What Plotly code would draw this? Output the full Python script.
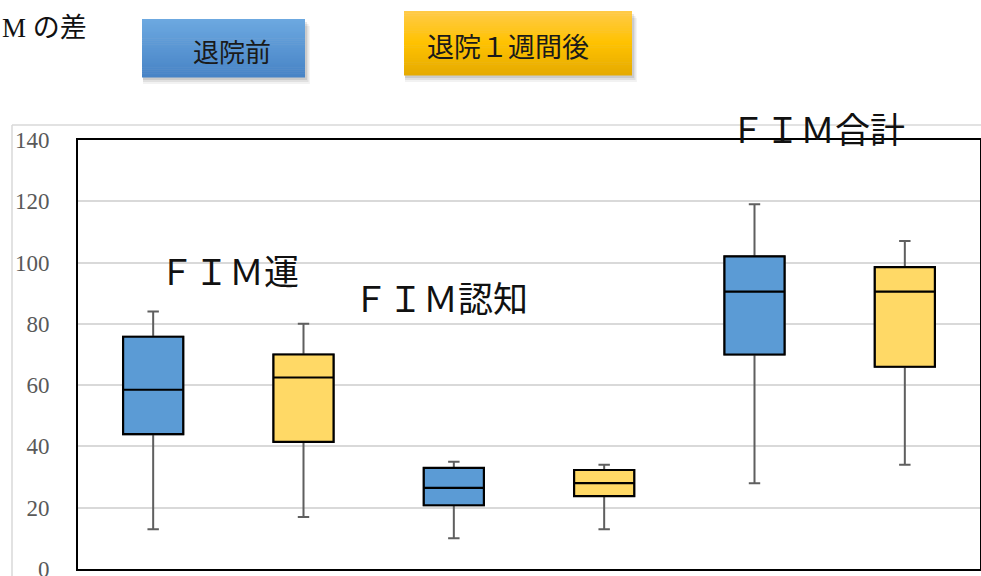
import plotly.graph_objects as go

# --- data -------------------------------------------------------------
groups = ["ＦＩＭ運", "ＦＩＭ認知", "ＦＩＭ合計"]
phases = ["退院前", "退院１週間後"]
categories = [f"{g}・{p}" for g in groups for p in phases]

lower = [13, 17, 10, 13, 28, 34]
q1 = [44, 41.5, 20.8, 23.8, 70, 66]
median = [58.5, 62.5, 26.5, 28, 90.5, 90.5]
q3 = [75.8, 70, 33, 32.3, 102, 98.5]
upper = [84, 80, 35, 34, 119, 107]

y_ticks = [0, 20, 40, 60, 80, 100, 120, 140]
title_text = "M の差"

# --- style ------------------------------------------------------------
W, H = 981, 576
phase_fill = {"退院前": "#5B9BD5", "退院１週間後": "#FFD966"}
serif = "Liberation Serif, Noto Sans CJK JP, serif"
cjk = "Noto Sans CJK JP, sans-serif"


def px(x):
    return x / W


def py(y):
    return 1 - y / H


fig = go.Figure()

for i, cat in enumerate(categories):
    phase = phases[i % 2]
    fill = phase_fill[phase]
    # whiskers (gray) with caps
    fig.add_trace(go.Box(
        x=[cat], q1=[q1[i]], median=[median[i]], q3=[q3[i]],
        lowerfence=[lower[i]], upperfence=[upper[i]],
        width=0.40, whiskerwidth=0.19, fillcolor=fill,
        line=dict(color="#5F5F5F", width=2), boxpoints=False,
        showlegend=False, hoverinfo="skip",
    ))
    # box body (black outline) drawn over the whiskers
    fig.add_trace(go.Box(
        x=[cat], q1=[q1[i]], median=[median[i]], q3=[q3[i]],
        lowerfence=[q1[i]], upperfence=[q3[i]],
        width=0.40, whiskerwidth=0.19, fillcolor=fill,
        line=dict(color="#000000", width=2.2), boxpoints=False,
        name=phase, showlegend=False,
    ))

shapes = []

# outer chart-area border (left and top edges; the rest lies past the page)
for seg in [(12, 125, 12, 576), (12, 125, 981, 125)]:
    shapes.append(dict(type="line", xref="paper", yref="paper",
                       x0=px(seg[0]), y0=py(seg[1]), x1=px(seg[2]), y1=py(seg[3]),
                       line=dict(color="#D9D9D9", width=1.5), layer="below"))


def button(x0, y0, x1, y1, top, bottom, mid=None):
    # soft drop shadow
    for k, a in [(7, 0.05), (5, 0.07), (3, 0.09)]:
        shapes.append(dict(type="rect", xref="paper", yref="paper",
                           x0=px(x0 + 1), y0=py(y0 + k), x1=px(x1 + k * 0.7), y1=py(y1 + k),
                           line=dict(width=0), fillcolor=f"rgba(0,0,0,{a})"))
    # vertical gradient built from thin strips
    n = 30
    h = (y1 - y0) / n
    for s in range(n):
        t = s / (n - 1)
        if mid is None:
            c = [top[j] + (bottom[j] - top[j]) * t for j in range(3)]
        elif t < 0.5:
            c = [top[j] + (mid[j] - top[j]) * t * 2 for j in range(3)]
        else:
            c = [mid[j] + (bottom[j] - mid[j]) * (t - 0.5) * 2 for j in range(3)]
        col = "rgb(%d,%d,%d)" % tuple(round(v) for v in c)
        shapes.append(dict(type="rect", xref="paper", yref="paper",
                           x0=px(x0), y0=py(y0 + s * h), x1=px(x1), y1=py(y0 + (s + 1) * h + 0.5),
                           line=dict(width=0), fillcolor=col))


button(142, 19, 305, 77, (108, 168, 224), (72, 132, 198))
button(404, 11, 632, 75, (255, 202, 70), (230, 171, 0), mid=(255, 194, 0))

annotations = [
    dict(text=title_text, x=px(0), y=py(28), xanchor="left", yanchor="middle",
         font=dict(family=serif, size=27, color="#111111")),
    dict(text=phases[0], x=px(232), y=py(51), xanchor="center", yanchor="middle",
         font=dict(family=cjk, size=26, color="#1A1A1A")),
    dict(text=phases[1], x=px(508), y=py(45), xanchor="center", yanchor="middle",
         font=dict(family=cjk, size=27, color="#1A1A1A")),
    dict(text=groups[0], x=px(229), y=py(269), xanchor="center", yanchor="middle",
         font=dict(family=cjk, size=35, color="#111111")),
    dict(text=groups[1], x=px(440), y=py(296), xanchor="center", yanchor="middle",
         font=dict(family=cjk, size=35, color="#111111")),
    dict(text=groups[2], x=px(817), y=py(127), xanchor="center", yanchor="middle",
         font=dict(family=cjk, size=35, color="#111111")),
]
for a in annotations:
    a.update(xref="paper", yref="paper", showarrow=False)

fig.update_layout(
    width=W, height=H,
    margin=dict(l=0, r=0, t=0, b=0, autoexpand=False),
    paper_bgcolor="white", plot_bgcolor="white",
    boxmode="overlay",
    shapes=shapes, annotations=annotations,
    showlegend=False,
    xaxis=dict(domain=[px(78), px(980)], range=[-0.5, 5.5], automargin=False,
               showticklabels=False, showgrid=False, zeroline=False,
               showline=True, mirror=True, linecolor="#000000", linewidth=2),
    yaxis=dict(domain=[py(569), py(140)], range=[0, 140], automargin=False,
               tickvals=y_ticks, ticktext=[str(v) for v in y_ticks],
               showgrid=True, gridcolor="#D9D9D9", gridwidth=1.5, zeroline=False,
               showline=True, mirror=True, linecolor="#000000", linewidth=2,
               ticks="", ticklabelstandoff=22, ticklabeloverflow="allow",
               tickfont=dict(family=serif, size=23, color="#595959")),
)

fig.write_html("out.html", config={"displayModeBar": False})
